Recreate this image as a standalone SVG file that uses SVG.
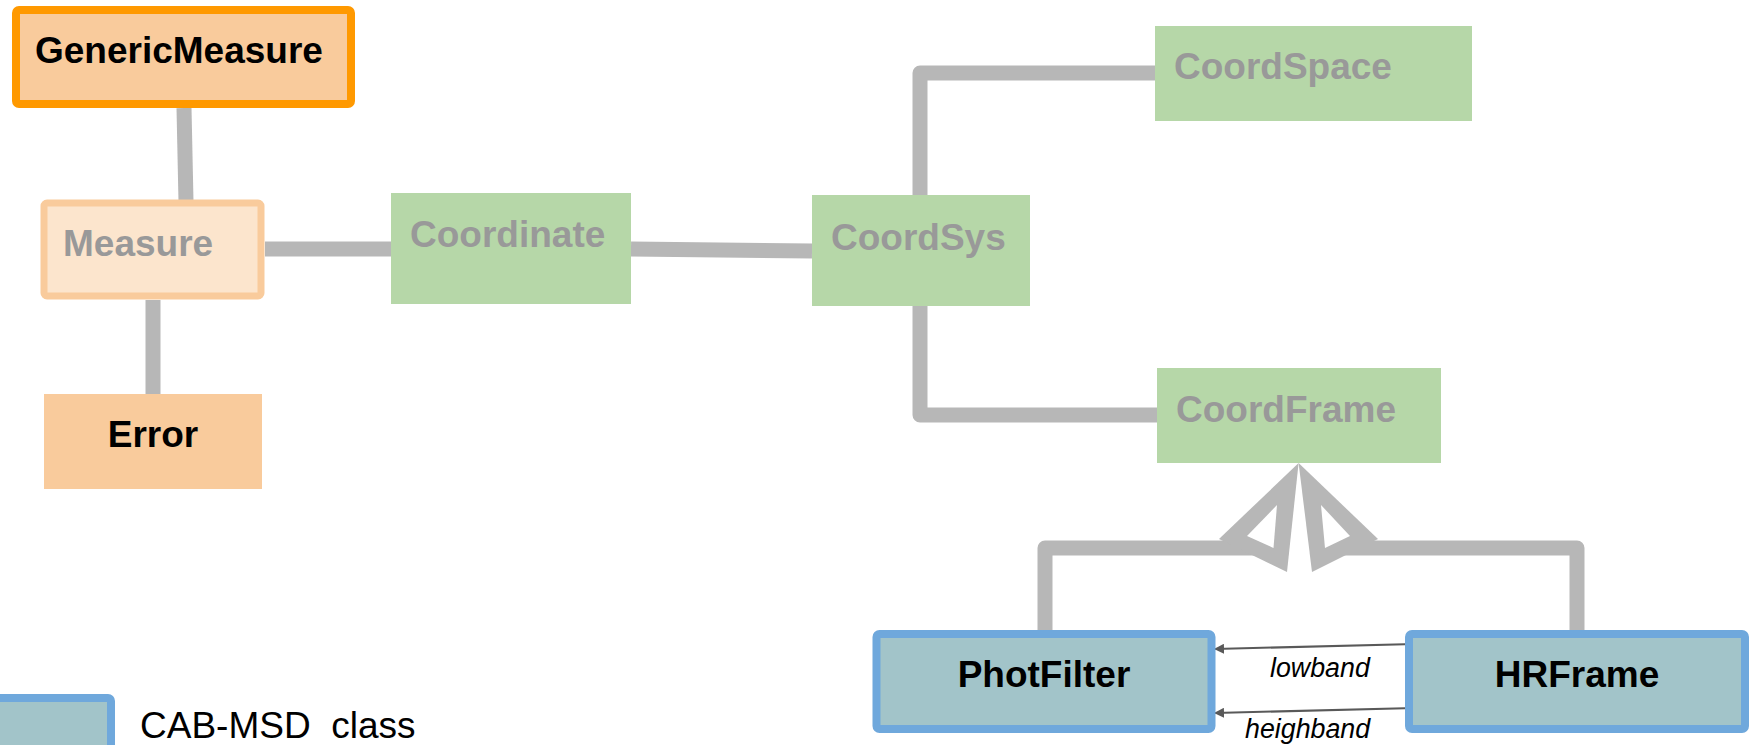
<svg xmlns="http://www.w3.org/2000/svg" width="1752" height="745" viewBox="0 0 1752 745">
<style>
.t{font-family:"Liberation Sans",Arial,sans-serif;font-weight:bold;font-size:37px}
.blk{fill:#000}
.gry{fill:#999999}
.lab{font-family:"Liberation Sans",Arial,sans-serif;font-style:italic;font-size:26.8px;fill:#000}
.leg{font-family:"Liberation Sans",Arial,sans-serif;font-size:37px;fill:#000;white-space:pre}
.con{fill:none;stroke:#B7B7B7;stroke-width:15;stroke-linejoin:round}
.thin{fill:none;stroke:#595959;stroke-width:2}
.green{fill:#B6D7A8}
.cab{fill:#A2C4C9;stroke:#6FA8DC;stroke-width:8}
</style>
<defs>
<marker id="ah" viewBox="0 0 10 10" refX="9" refY="5" markerWidth="5" markerHeight="5" orient="auto" markerUnits="strokeWidth">
<path d="M0,0 L10,5 L0,10 z" fill="#595959"/>
</marker>
</defs>
<rect width="1752" height="745" fill="#fff"/>
<g id="connectors">
<path class="con" d="M184 108 L186 202"/>
<path class="con" d="M153 300 L153 394"/>
<path class="con" d="M265 249 L391 249"/>
<path class="con" d="M631 249 L812 251"/>
<path class="con" d="M920 195 L920 73 L1155 73"/>
<path class="con" d="M920 306 L920 415 L1157 415"/>
<path class="con" d="M1045 631 L1045 548 L1262 548"/>
<path class="con" d="M1577 633 L1577 548 L1336 548"/>
<polygon points="1298.6,463 1219,539 1287,572" fill="#B7B7B7"/>
<polygon points="1277,505 1247,536 1273.5,548" fill="#fff"/>
<polygon points="1298.6,463 1378,539 1312,572" fill="#B7B7B7"/>
<polygon points="1321,505 1350,536 1325,548" fill="#fff"/>
<path class="thin" d="M1415 644 L1215 649" marker-end="url(#ah)"/>
<path class="thin" d="M1415 708 L1215 713" marker-end="url(#ah)"/>
<text class="lab" x="1270" y="677">lowband</text>
<text class="lab" x="1245" y="738">heighband</text>
</g>
<g id="GenericMeasure">
<rect x="16" y="10" width="335" height="94" rx="3" fill="#F9CB9C" stroke="#FF9900" stroke-width="8"/>
<text class="t blk" x="35" y="63">GenericMeasure</text>
</g>
<g id="Measure">
<rect x="44" y="203" width="217" height="93" rx="3" fill="#FCE5CD" stroke="#F9CB9C" stroke-width="7"/>
<text class="t gry" x="63" y="256">Measure</text>
</g>
<g id="Error">
<rect x="44" y="394" width="218" height="95" fill="#F9CB9C"/>
<text class="t blk" x="153" y="447" text-anchor="middle">Error</text>
</g>
<g id="Coordinate">
<rect class="green" x="391" y="193" width="240" height="111"/>
<text class="t gry" x="410" y="247">Coordinate</text>
</g>
<g id="CoordSys">
<rect class="green" x="812" y="195" width="218" height="111"/>
<text class="t gry" x="831" y="250">CoordSys</text>
</g>
<g id="CoordSpace">
<rect class="green" x="1155" y="26" width="317" height="95"/>
<text class="t gry" x="1174" y="79">CoordSpace</text>
</g>
<g id="CoordFrame">
<rect class="green" x="1157" y="368" width="284" height="95"/>
<text class="t gry" x="1176" y="422">CoordFrame</text>
</g>
<g id="PhotFilter">
<rect class="cab" x="876.5" y="634" width="335" height="95" rx="3"/>
<text class="t blk" x="1044" y="687" text-anchor="middle">PhotFilter</text>
</g>
<g id="HRFrame">
<rect class="cab" x="1409" y="634" width="336" height="95" rx="3"/>
<text class="t blk" x="1577" y="687" text-anchor="middle">HRFrame</text>
</g>
<g id="legend">
<rect class="cab" x="-10" y="698" width="121" height="60" rx="3"/>
<text class="leg" x="140" y="738">CAB-MSD  class</text>
</g>
</svg>
